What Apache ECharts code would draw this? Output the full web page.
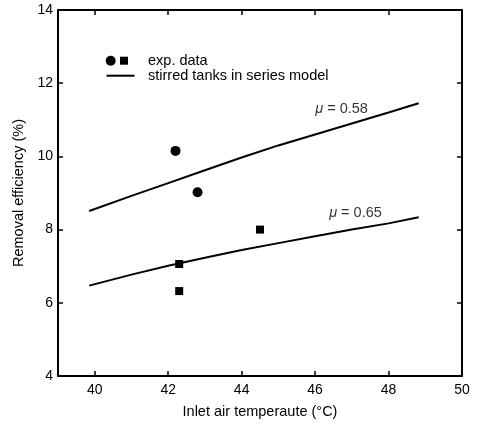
<!DOCTYPE html>
<html>
<head>
<meta charset="utf-8">
<script src="https://cdn.jsdelivr.net/npm/echarts@6/dist/echarts.min.js"></script>
<style>html,body{margin:0;padding:0;background:#fff}#c{width:478px;height:427px}</style>
</head>
<body>
<div id="c"></div>
<script>
// Data
var expCircles = [[42.2, 10.15], [42.8, 9.02]];
var expSquares = [[42.3, 7.06], [42.3, 6.32], [44.5, 8.0]];
var modelX = [39.85, 41, 42, 43, 44, 45, 46, 47, 48, 48.82];
var model058 = [8.51, 8.92, 9.27, 9.62, 9.97, 10.30, 10.60, 10.90, 11.20, 11.45];
var model065 = [6.47, 6.77, 7.01, 7.23, 7.44, 7.63, 7.82, 8.00, 8.17, 8.34];
var xTicks = [40, 42, 44, 46, 48, 50];
var yTicks = [4, 6, 8, 10, 12, 14];
var annotations = [
  {x: 46.72, y: 11.30, text: '0.58'},
  {x: 47.1, y: 8.46, text: '0.65'}
];
var legendItems = ['exp. data', 'stirred tanks in series model'];
var xName = 'Inlet air temperaute (\u00B0C)';
var yName = 'Removal efficiency (%)';

function zip(xs, ys) { return xs.map(function (x, i) { return [x, ys[i]]; }); }

var FONT = 'Liberation Sans, Arial, sans-serif';
var FS = 14.5;
var chart = echarts.init(document.getElementById('c'), null, {renderer: 'canvas'});
var grid = {left: 58, right: 16, top: 10, bottom: 51, containLabel: false};

var baseAxisLine = {show: true, onZero: false, lineStyle: {color: '#000', width: 2}};
var opt = {
  animation: false,
  backgroundColor: '#fff',
  grid: grid,
  xAxis: [
    {type: 'value', min: 39, max: 50, position: 'bottom',
     name: xName, nameLocation: 'middle', nameGap: 28,
     nameTextStyle: {fontFamily: FONT, fontSize: FS, color: '#000'},
     axisLine: baseAxisLine,
     axisTick: {show: true, inside: true, length: 5, customValues: xTicks, lineStyle: {color: '#000', width: 1.5}},
     axisLabel: {show: true, customValues: xTicks, fontFamily: FONT, fontSize: 14, color: '#000', margin: 7},
     splitLine: {show: false}},
    {type: 'value', min: 39, max: 50, position: 'top',
     axisLine: baseAxisLine,
     axisTick: {show: true, inside: true, length: 5, customValues: xTicks, lineStyle: {color: '#000', width: 1.5}},
     axisLabel: {show: false}, splitLine: {show: false}}
  ],
  yAxis: [
    {type: 'value', min: 4, max: 14, interval: 2, position: 'left',
     name: yName, nameLocation: 'middle', nameGap: 31, nameRotate: 90,
     nameTextStyle: {fontFamily: FONT, fontSize: FS, color: '#000'},
     axisLine: baseAxisLine,
     axisTick: {show: true, inside: true, length: 5, lineStyle: {color: '#000', width: 1.5}},
     axisLabel: {show: true, fontFamily: FONT, fontSize: 14, color: '#000', margin: 5},
     splitLine: {show: false}},
    {type: 'value', min: 4, max: 14, interval: 2, position: 'right',
     axisLine: baseAxisLine,
     axisTick: {show: true, inside: true, length: 5, lineStyle: {color: '#000', width: 1.5}},
     axisLabel: {show: false}, splitLine: {show: false}}
  ],
  series: [
    {type: 'line', data: zip(modelX, model058), showSymbol: false, symbol: 'none',
     lineStyle: {color: '#000', width: 2}, z: 2},
    {type: 'line', data: zip(modelX, model065), showSymbol: false, symbol: 'none',
     lineStyle: {color: '#000', width: 2}, z: 2},
    {type: 'scatter', data: expCircles, symbol: 'circle', symbolSize: 10,
     itemStyle: {color: '#000', opacity: 1}, z: 3},
    {type: 'scatter', data: expSquares, symbol: 'rect', symbolSize: 8,
     itemStyle: {color: '#000', opacity: 1}, z: 3},
    {type: 'scatter', symbolSize: 0, silent: true, z: 4,
     data: annotations.map(function (a) { return {value: [a.x, a.y], name: a.text}; }),
     label: {show: true, position: 'inside',
       formatter: function (p) { return '{mu|\u03BC}{t| = ' + p.name + '}'; },
       rich: {
         mu: {fontFamily: FONT, fontStyle: 'italic', fontSize: FS, color: '#000'},
         t: {fontFamily: FONT, fontSize: FS, color: '#000'}
       }}}
  ],
  graphic: [
    {type: 'circle', shape: {cx: 110.7, cy: 60.7, r: 5}, style: {fill: '#000'}},
    {type: 'rect', shape: {x: 120, y: 56.7, width: 8, height: 8}, style: {fill: '#000'}},
    {type: 'line', shape: {x1: 106.5, y1: 75.7, x2: 134.5, y2: 75.7}, style: {stroke: '#000', lineWidth: 2}},
    {type: 'text', x: 148, y: 60.5, style: {text: legendItems[0], font: FS + 'px ' + FONT, fill: '#000', textVerticalAlign: 'middle'}},
    {type: 'text', x: 148, y: 75.5, style: {text: legendItems[1], font: FS + 'px ' + FONT, fill: '#000', textVerticalAlign: 'middle'}}
  ]
};
chart.setOption(opt);
</script>
</body>
</html>
